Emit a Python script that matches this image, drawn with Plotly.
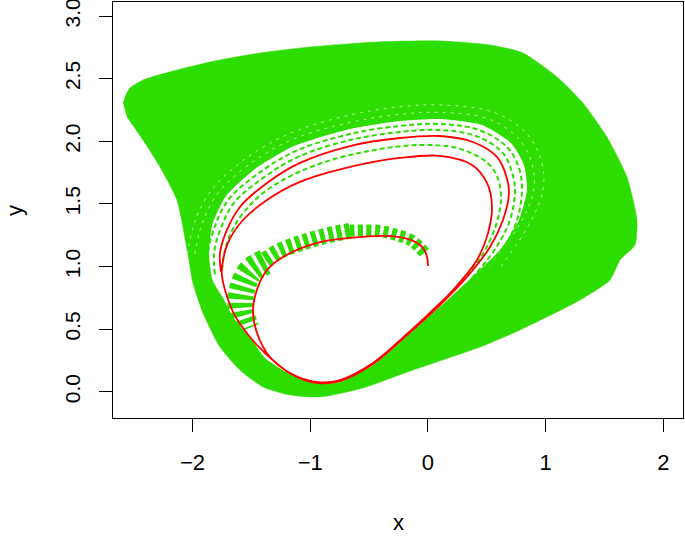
import plotly.graph_objects as go

GREEN = "#2EDD00"
RED = "#FF0000"

# Outer envelope of the family of green trajectories
env_x = [-2.590, -2.560, -2.531, -2.420, -2.132, -1.851, -1.427, -1.002, -0.433, 0.102, 0.527, 0.807, 1.096,
         1.316, 1.520, 1.690, 1.775, 1.758, 1.631, 1.546, 1.291, 0.781, 0.442, -0.127, -0.552, -0.917,
         -1.172, -1.401, -1.597, -1.766, -1.911, -1.996, -2.038, -2.132, -2.276, -2.420, -2.556]
env_y = [2.306, 2.380, 2.426, 2.490, 2.569, 2.633, 2.705, 2.753, 2.793, 2.801, 2.769, 2.705, 2.514,
         2.306, 2.034, 1.715, 1.371, 1.172, 1.052, 0.892, 0.732, 0.493, 0.357, 0.173, 0.030, -0.042,
         -0.026, 0.038, 0.173, 0.357, 0.629, 0.868, 1.092, 1.531, 1.795, 2.010, 2.194]

# Empty interior (inside the dashed band)
hole_x = [0.110, 0.357, 0.611, 0.773, 0.841, 0.815, 0.705, 0.459, 0.102, -0.238, -0.662, -1.138,
          -1.469, -1.715, -1.830, -1.860, -1.830, -1.740, -1.650, -1.500, -1.384, -1.172, -0.943,
          -0.747, -0.467, -0.178]
hole_y = [0.685, 0.900, 1.132, 1.371, 1.611, 1.811, 1.986, 2.130, 2.178, 2.162, 2.098, 1.962,
          1.779, 1.563, 1.339, 1.108, 0.892, 0.748, 0.589, 0.420, 0.269, 0.141, 0.062,
          0.077, 0.213, 0.445]

# Dashed green trajectories visible in the band
d1_x = [0.289, 0.476, 0.586, 0.620, 0.586, 0.484, 0.246, -0.068, -0.450, -0.875, -1.231, -1.469, -1.639, -1.724, -1.749]
d1_y = [0.876, 1.116, 1.355, 1.563, 1.723, 1.843, 1.946, 1.970, 1.931, 1.835, 1.691, 1.531, 1.331, 1.132, 0.956]
d2_x = [0.374, 0.577, 0.696, 0.739, 0.713, 0.628, 0.408, 0.102, -0.238, -0.662, -1.104, -1.401, -1.648, -1.758, -1.817, -1.809]
d2_y = [0.908, 1.148, 1.371, 1.595, 1.755, 1.915, 2.042, 2.090, 2.074, 2.010, 1.875, 1.707, 1.507, 1.307, 1.108, 0.932]
d3_x = [0.425, 0.637, 0.756, 0.798, 0.773, 0.671, 0.433, 0.102, -0.238, -0.662, -1.121, -1.435, -1.690, -1.809, -1.868, -1.860]
d3_y = [0.892, 1.132, 1.371, 1.603, 1.787, 1.954, 2.090, 2.138, 2.122, 2.058, 1.923, 1.747, 1.539, 1.323, 1.108, 0.908]

# Sparse (speckled) rows just outside the band, on top of the dense green
s1_x = [0.520, 0.800, 0.900, 0.880, 0.770, 0.510, 0.102, -0.238, -0.662, -1.160, -1.510, -1.780, -1.920, -1.980]
s1_y = [1.000, 1.371, 1.620, 1.830, 2.020, 2.180, 2.230, 2.215, 2.150, 2.010, 1.820, 1.590, 1.340, 1.100]
s2_x = [0.620, 0.880, 0.980, 0.960, 0.840, 0.560, 0.102, -0.238, -0.662, -1.180, -1.550, -1.830, -1.980, -2.040]
s2_y = [1.000, 1.371, 1.630, 1.850, 2.060, 2.230, 2.290, 2.275, 2.210, 2.060, 1.860, 1.620, 1.360, 1.110]

# Striped early parts of the green trajectories (near the start)
h1_x = [-0.030, -0.136, -0.280, -0.433, -0.662]
h1_y = [1.110, 1.205, 1.255, 1.285, 1.285]
h2_x = [-0.662, -0.892, -1.087, -1.257, -1.384]
h2_y = [1.285, 1.240, 1.185, 1.125, 1.052]
h3_x = [-1.384, -1.512, -1.580, -1.590, -1.540]
h3_y = [1.036, 0.956, 0.812, 0.653, 0.500]

# Red trajectory
red_x = [0.000, -0.008, -0.042, -0.127, -0.255, -0.382, -0.662, -0.943, -1.231, -1.367, -1.444, -1.486,
         -1.452, -1.342, -1.172, -0.943, -0.747, -0.467, -0.178, 0.042, 0.212, 0.416, 0.510, 0.544,
         0.501, 0.374, 0.102, -0.238, -0.662, -1.087, -1.367, -1.571, -1.699, -1.749, -1.749,
         -1.716, -1.639, -1.512, -1.393, -1.163, -0.943, -0.747, -0.467, -0.178, 0.102, 0.331,
         0.527, 0.637, 0.688, 0.662, 0.586, 0.382, 0.102, -0.238, -0.662, -1.087, -1.367, -1.597,
         -1.707, -1.766, -1.758]
red_y = [1.004, 1.076, 1.148, 1.204, 1.236, 1.244, 1.228, 1.188, 1.076, 0.972, 0.836, 0.653,
         0.469, 0.277, 0.149, 0.077, 0.093, 0.229, 0.461, 0.653, 0.812, 1.052, 1.268, 1.475,
         1.667, 1.811, 1.883, 1.867, 1.795, 1.675, 1.531, 1.371, 1.188, 0.996, 0.924,
         0.788, 0.605, 0.437, 0.317, 0.141, 0.069, 0.085, 0.221, 0.453, 0.692, 0.916,
         1.156, 1.371, 1.587, 1.731, 1.875, 1.994, 2.042, 2.026, 1.962, 1.827, 1.667, 1.475,
         1.292, 1.108, 0.956]

x_ticks = [-2, -1, 0, 1, 2]
y_ticks = [0.0, 0.5, 1.0, 1.5, 2.0, 2.5, 3.0]

fig = go.Figure()
fig.add_trace(go.Scatter(x=env_x, y=env_y, fill="toself", fillcolor=GREEN, mode="lines",
                         line=dict(width=0.5, color=GREEN, shape="spline", smoothing=0.6), hoverinfo="skip"))
fig.add_trace(go.Scatter(x=hole_x, y=hole_y, fill="toself", fillcolor="white", mode="lines",
                         line=dict(width=0, shape="spline", smoothing=0.6), hoverinfo="skip"))
for xs, ys in [(s1_x, s1_y), (s2_x, s2_y)]:
    fig.add_trace(go.Scatter(x=xs, y=ys, mode="lines",
                             line=dict(color="white", width=1, dash="3px,5px", shape="spline"),
                             opacity=0.6, hoverinfo="skip"))
for xs, ys in [(d1_x, d1_y), (d2_x, d2_y), (d3_x, d3_y)]:
    fig.add_trace(go.Scatter(x=xs, y=ys, mode="lines",
                             line=dict(color=GREEN, width=2, dash="5px,3px", shape="spline"),
                             hoverinfo="skip"))
for xs, ys, w in [(h1_x, h1_y, 12), (h2_x, h2_y, 16), (h3_x, h3_y, 26)]:
    fig.add_trace(go.Scatter(x=xs, y=ys, mode="lines",
                             line=dict(color=GREEN, width=w, dash="5px,3.5px", shape="spline"),
                             hoverinfo="skip"))
fig.add_trace(go.Scatter(x=red_x, y=red_y, mode="lines", line=dict(color=RED, width=1.8, shape="spline"),
                         hoverinfo="skip"))

font = dict(family="Liberation Sans, Arial, sans-serif", size=22, color="black")
fig.update_layout(
    width=685, height=537, showlegend=False,
    margin=dict(l=113, r=2, t=2, b=119, autoexpand=False),
    plot_bgcolor="white", paper_bgcolor="white", font=font,
    annotations=[
        dict(text="x", xref="paper", yref="paper", x=0.5, y=-0.25, showarrow=False,
             xanchor="center", yanchor="middle", font=font),
        dict(text="y", xref="paper", yref="paper", x=-0.1737, y=0.5, showarrow=False,
             xanchor="center", yanchor="middle", textangle=-90, font=font),
    ],
)
fig.update_xaxes(range=[-2.675, 2.166], tickvals=x_ticks, ticks="outside", ticklen=13, tickwidth=1,
                 tickcolor="black", showline=True, linecolor="black", linewidth=1, mirror=True,
                 showgrid=False, zeroline=False, ticklabelstandoff=12, automargin=False,
                 ticklabeloverflow="allow")
fig.update_yaxes(range=[-0.21, 3.112], tickvals=y_ticks, tickformat=".1f", tickangle=-90,
                 ticks="outside", ticklen=13, tickwidth=1, tickcolor="black", showline=True,
                 linecolor="black", linewidth=1, mirror=True, showgrid=False, zeroline=False,
                 ticklabelstandoff=11, automargin=False, ticklabeloverflow="allow",
                 tickfont=dict(family="Liberation Sans, Arial, sans-serif", size=21, color="black"))
fig.write_html("out.html", config={"displayModeBar": False},
               post_script="document.body.style.margin='0px';")
